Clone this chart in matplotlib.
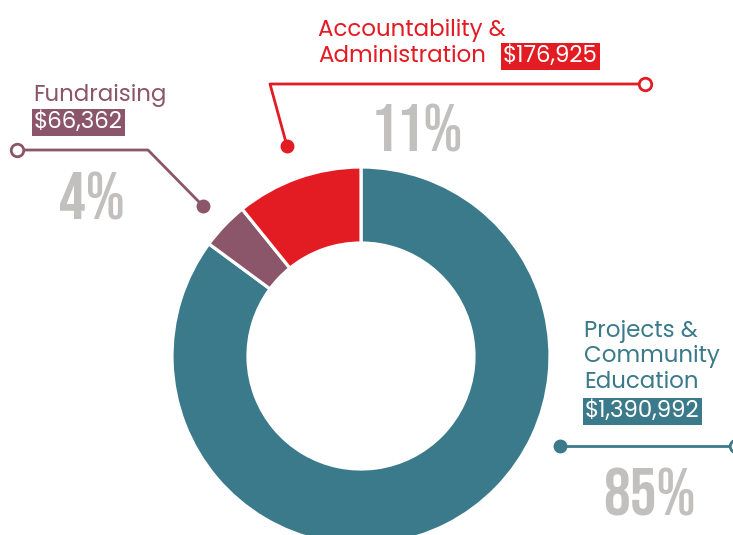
import matplotlib
matplotlib.use("Agg")
import matplotlib.pyplot as plt

# data
categories = ["Projects &\nCommunity\nEducation", "Fundraising", "Accountability &\nAdministration"]
amounts = [1390992, 66362, 176925]
amount_labels = ["$1,390,992", "$66,362", "$176,925"]
percent_labels = ["85%", "4%", "11%"]
colors = ["#3b7a8a", "#8b5669", "#e31b23"]
grey = "#c2bfbf"

W, H = 733, 535
fig = plt.figure(figsize=(W / 100, H / 100), dpi=100)
ax = fig.add_axes([0, 0, 1, 1])

def py(y):
    # pixel row (from top) -> data y
    return H - y

cx, cy, r = 361, py(356), 189
ax.pie(amounts, colors=colors, startangle=90, counterclock=False, center=(cx, cy), radius=r,
       wedgeprops=dict(width=76, edgecolor="white", linewidth=2.3))
ax.set_xlim(0, W)
ax.set_ylim(0, H)
ax.set_aspect("equal")
ax.axis("off")

lab_font = ["Poppins", "Lato", "DejaVu Sans"]
fs = 16.5
lab_kw = dict(fontsize=fs, family=lab_font, va="baseline", ha="left", linespacing=1.15)
box = dict(boxstyle="square,pad=0.1", ec="none")

# accountability
ax.text(318, py(62), categories[2], color=colors[2], **lab_kw)
ax.text(503, py(62), amount_labels[2], color="white", bbox=dict(box, fc=colors[2]), **lab_kw)
ax.plot([645, 270, 287], [py(84), py(84), py(146)], color=colors[2], lw=2)
ax.plot([287], [py(146)], "o", color=colors[2], ms=9)
ax.plot([645], [py(84)], "o", mfc="white", mec=colors[2], mew=2, ms=9)

# fundraising
ax.text(33, py(101), categories[1], color=colors[1], **lab_kw)
ax.text(34, py(128), amount_labels[1], color="white", bbox=dict(box, fc=colors[1]), **lab_kw)
ax.plot([17, 148, 203], [py(150), py(150), py(206)], color=colors[1], lw=2)
ax.plot([203], [py(206)], "o", color=colors[1], ms=9)
ax.plot([17], [py(150)], "o", mfc="white", mec=colors[1], mew=2, ms=9)

# projects
ax.text(584, py(388), categories[0], color=colors[0], **lab_kw)
ax.text(585, py(417), amount_labels[0], color="white", bbox=dict(box, fc=colors[0]), **lab_kw)
ax.plot([560, 736], [py(446), py(446)], color=colors[0], lw=2)
ax.plot([560], [py(446)], "o", color=colors[0], ms=9)
ax.plot([736], [py(446)], "o", mfc="white", mec=colors[0], mew=2, ms=9, clip_on=False)

# percentages
pct_kw = dict(color=grey, fontsize=48, family=["Bebas Neue", "Oswald", "DejaVu Sans"],
              va="baseline", ha="center")
ax.text(649, py(515), percent_labels[0], **pct_kw)
ax.text(92, py(220), percent_labels[1], **pct_kw)
ax.text(417, py(151), percent_labels[2], **pct_kw)

fig.savefig("out.png", dpi=100)
